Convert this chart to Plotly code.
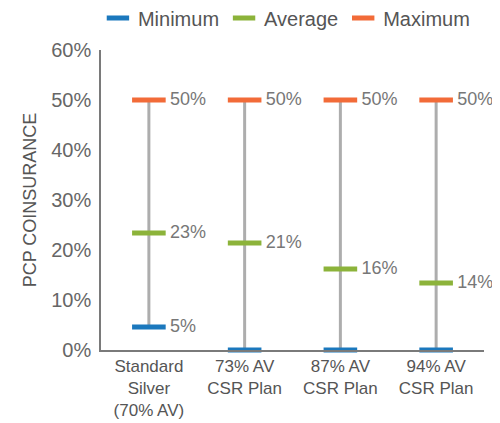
import plotly.graph_objects as go

categories = ["Standard<br>Silver<br>(70% AV)", "73% AV<br>CSR Plan", "87% AV<br>CSR Plan", "94% AV<br>CSR Plan"]
minimum = [0.046, 0.0, 0.0, 0.0]
average = [0.234, 0.214, 0.162, 0.134]
maximum = [0.50, 0.50, 0.50, 0.50]
min_labels = ["5%", "", "", ""]
avg_labels = ["23%", "21%", "16%", "14%"]
max_labels = ["50%", "50%", "50%", "50%"]
y_ticks = [0, 0.1, 0.2, 0.3, 0.4, 0.5, 0.6]

FONT = "Liberation Sans"
TXT = "#777777"
PAD = "\u00a0"

fig = go.Figure()

vx, vy = [], []
for c, lo, hi in zip(categories, minimum, maximum):
    vx += [c, c, None]
    vy += [lo, hi, None]
fig.add_trace(go.Scatter(x=vx, y=vy, mode="lines", line=dict(color="#adadad", width=3),
                         showlegend=False, hoverinfo="skip"))

def dash_trace(name, vals, labels, color):
    return go.Scatter(
        x=categories, y=vals, name=name, mode="markers+text",
        text=[PAD + t if t else "" for t in labels], textposition="middle right",
        textfont=dict(color=TXT, size=18, family=FONT),
        marker=dict(symbol="line-ew-open", size=24, color=color, line=dict(color=color, width=5)),
        cliponaxis=False,
    )

fig.add_trace(dash_trace("Minimum", minimum, min_labels, "#1b78bd"))
fig.add_trace(dash_trace("Average", average, avg_labels, "#8cb33a"))
fig.add_trace(dash_trace("Maximum", maximum, max_labels, "#f26b38"))

# page body has an 8px margin, so the figure is sized and offset to compensate
fig.update_layout(
    width=492, height=415,
    margin=dict(l=93, r=16, t=42, b=73, autoexpand=False),
    plot_bgcolor="white", paper_bgcolor="white",
    font=dict(family=FONT, color=TXT, size=16),
    legend=dict(orientation="h", xref="paper", x=-0.008, xanchor="left",
                yref="paper", y=1.107, yanchor="middle",
                font=dict(size=20, color="#555555"),
                itemwidth=30, tracegroupgap=0),
    showlegend=True,
)
fig.update_xaxes(range=[-0.5, 3.5], showline=True, linecolor="#7a7a7a", linewidth=1.5, ticks="",
                 tickfont=dict(size=17, color="#555555"), showgrid=False, automargin=False)
fig.update_yaxes(range=[0, 0.6], tickvals=y_ticks, tickformat=".0%", showgrid=False,
                 zeroline=False, showline=True, linecolor="#7a7a7a", linewidth=1.5,
                 ticks="", ticklabelstandoff=4, tickfont=dict(size=20, color="#666666"), automargin=False,
                 title=dict(text="PCP COINSURANCE", font=dict(size=18, color="#555555"), standoff=10))

fig.write_html("out.html")
